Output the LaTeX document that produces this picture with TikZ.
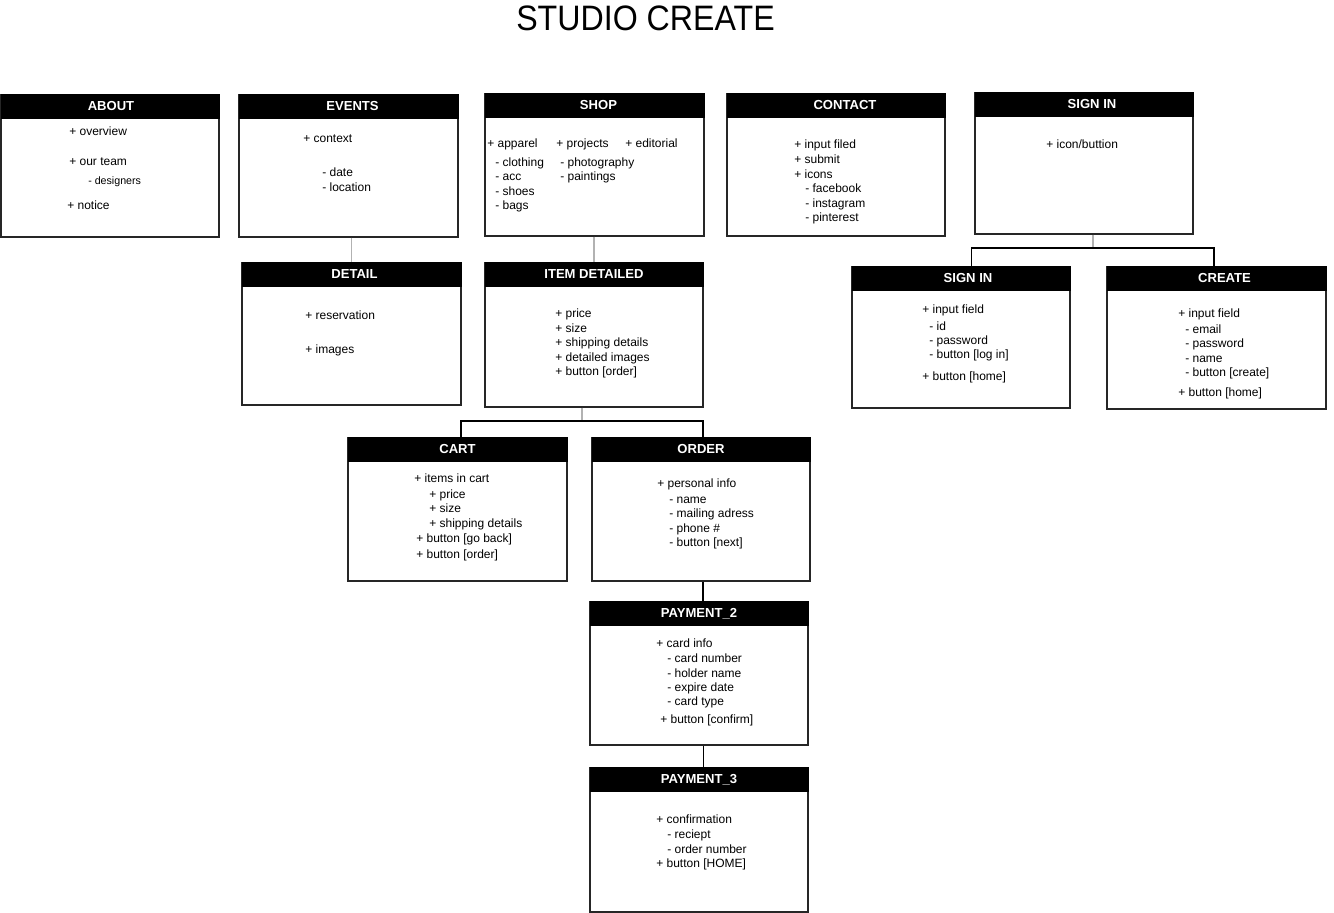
\documentclass[tikz,border=0pt]{standalone}
\usepackage{fontspec}
\setmainfont{Liberation Sans}
\newfontfamily\titlefont[FakeStretch=0.91]{Liberation Sans}
\usetikzlibrary{calc}
\tikzset{ h/.style = { rectangle % header bar
        , draw = black
        , fill = black
        , inner sep = 0pt
        , minimum height = 17.5pt
        , font = \fontsize{9.8}{11}\selectfont\bfseries
        , text = white
        }
        , b/.style = { rectangle % page body
        , draw = black!85
        , line width = 0.9pt
        , fill = white
        , inner sep = 0pt
        }
        , t/.style = { anchor = west % list entry
        , inner sep = 0pt
        , yshift = -0.9pt
        , text height = 6.5pt
        , text depth = 1.8pt
        , font = \fontsize{9}{11}\selectfont
        }
        }
% [title shift], name, title, left, top, right, bottom (pixels)
\newcommand\screen[7][0pt]{%
  \node [b, minimum width={(#6-#4)*0.75pt}, minimum height={(#7-#5)*0.75pt}] (#2) at ({(#4+#6)/2},{(#5+#7)/2}) {};
  \node [h, minimum width={(#6-#4)*0.75pt}, anchor=north] (#2_head) at (#2.north) {\hspace*{#1}#3};
}

\begin{document}
\begin{tikzpicture}[x=0.75pt, y=-0.75pt,
        link_style/.style={draw=black, line width=0.8pt},
        stub_style/.style={draw=black!30, line width=0.8pt},
        small_style/.style={t, font=\fontsize{8}{10}\selectfont}]
        \useasboundingbox (0,0) rectangle (1334,913);

        \node [font=\titlefont\fontsize{26.5}{30}\selectfont, inner sep=0pt] (title) at (645.5,18) {STUDIO CREATE};

        \screen[1.5pt]{about}{ABOUT}{1}{95}{219}{237}
        \screen[6pt]{events}{EVENTS}{239}{95}{458}{237}
        \screen[6pt]{shop}{SHOP}{485}{94}{704}{236}
        \screen[13.5pt]{contact}{CONTACT}{727}{94}{945}{236}
        \screen[12pt]{signin}{SIGN IN}{975}{93}{1193}{234}
        \screen[4.5pt]{detail}{DETAIL}{242}{263}{461}{405}
        \screen{item}{ITEM DETAILED}{485}{263}{703}{407}
        \screen[10.5pt]{login}{SIGN IN}{852}{267}{1070}{408}
        \screen[12pt]{create}{CREATE}{1107}{267}{1326}{409}
        \screen{cart}{CART}{348}{438}{567}{581}
        \screen{order}{ORDER}{592}{438}{810}{581}
        \screen{pay2}{PAYMENT\_2}{590}{602}{808}{745}
        \screen{pay3}{PAYMENT\_3}{590}{768}{808}{912}

        % entries
        \foreach \x/\y/\s [count=\i] in {69/131/{+ overview}, 69/161/{+ our team}, 67/205/{+ notice}}
            \node [t] (about_\i) at (\x,\y) {\s};
        \node [small_style] (about_sub) at (88,180) {- designers};
        \foreach \x/\y/\s [count=\i] in {303/138/{+ context}, 322/172/{- date}, 322/187/{- location}}
            \node [t] (events_\i) at (\x,\y) {\s};
        \foreach \x/\y/\s [count=\i] in {487/143/{+ apparel}, 556/143/{+ projects}, 625/143/{+ editorial},
                495/162/{- clothing}, 495/176/{- acc}, 495/191/{- shoes}, 495/205/{- bags},
                560/162/{- photography}, 560/176/{- paintings}}
            \node [t] (shop_\i) at (\x,\y) {\s};
        \foreach \x/\y/\s [count=\i] in {794/144/{+ input filed}, 794/159/{+ submit}, 794/174/{+ icons},
                805/188/{- facebook}, 805/203/{- instagram}, 805/217/{- pinterest}}
            \node [t] (contact_\i) at (\x,\y) {\s};
        \node [t] (signin_1) at (1046,144) {+ icon/buttion};
        \foreach \x/\y/\s [count=\i] in {305/315/{+ reservation}, 305/349/{+ images}}
            \node [t] (detail_\i) at (\x,\y) {\s};
        \foreach \y/\s [count=\i] in {313/{+ price}, 328/{+ size}, 342/{+ shipping details},
                357/{+ detailed images}, 371/{+ button [order]}}
            \node [t] (item_\i) at (555,\y) {\s};
        \foreach \x/\y/\s [count=\i] in {922/309/{+ input field}, 929/326/{- id}, 929/340/{- password},
                929/354/{- button [log in]}, 922/376/{+ button [home]}}
            \node [t] (login_\i) at (\x,\y) {\s};
        \foreach \x/\y/\s [count=\i] in {1178/313/{+ input field}, 1185/329/{- email}, 1185/343/{- password},
                1185/358/{- name}, 1185/372/{- button [create]}, 1178/392/{+ button [home]}}
            \node [t] (create_\i) at (\x,\y) {\s};
        \foreach \x/\y/\s [count=\i] in {414/478/{+ items in cart}, 429/494/{+ price}, 429/508/{+ size},
                429/523/{+ shipping details}, 416/538/{+ button [go back]}, 416/554/{+ button [order]}}
            \node [t] (cart_\i) at (\x,\y) {\s};
        \foreach \x/\y/\s [count=\i] in {657/483/{+ personal info}, 669/499/{- name}, 669/513/{- mailing adress},
                669/528/{- phone \#}, 669/542/{- button [next]}}
            \node [t] (order_\i) at (\x,\y) {\s};
        \foreach \x/\y/\s [count=\i] in {656/643/{+ card info}, 667/658/{- card number}, 667/673/{- holder name},
                667/687/{- expire date}, 667/701/{- card type}, 660/719/{+ button [confirm]}}
            \node [t] (pay2_\i) at (\x,\y) {\s};
        \foreach \x/\y/\s [count=\i] in {656/819/{+ confirmation}, 667/834/{- reciept}, 667/849/{- order number},
                656/863/{+ button [HOME]}}
            \node [t] (pay3_\i) at (\x,\y) {\s};

        % links
        \coordinate (fork_a) at (582,421);
        \coordinate (fork_b) at (1093,248);
        \draw [stub_style] (detail.north |- events.south) -- (detail.north);
        \draw [stub_style] (item.north |- shop.south) -- (item.north);
        \draw [stub_style] (fork_a |- item.south) -- (fork_a);
        \draw [link_style] ([xshift=2.6pt]cart.north) |- (fork_a) -| ([xshift=1.5pt]order.north);
        \draw [stub_style] (fork_b |- signin.south) -- (fork_b);
        \draw [link_style] ([xshift=8.2pt]login.north) |- (fork_b) -| ([xshift=-1.9pt]create.north);
        \draw [link_style] ([xshift=1.5pt]order.south) -- ([xshift=1.5pt]order.south |- pay2.north);
        \draw [link_style] ([xshift=3.7pt]pay2.south) -- ([xshift=3.7pt]pay3.north);
\end{tikzpicture}
\end{document}
